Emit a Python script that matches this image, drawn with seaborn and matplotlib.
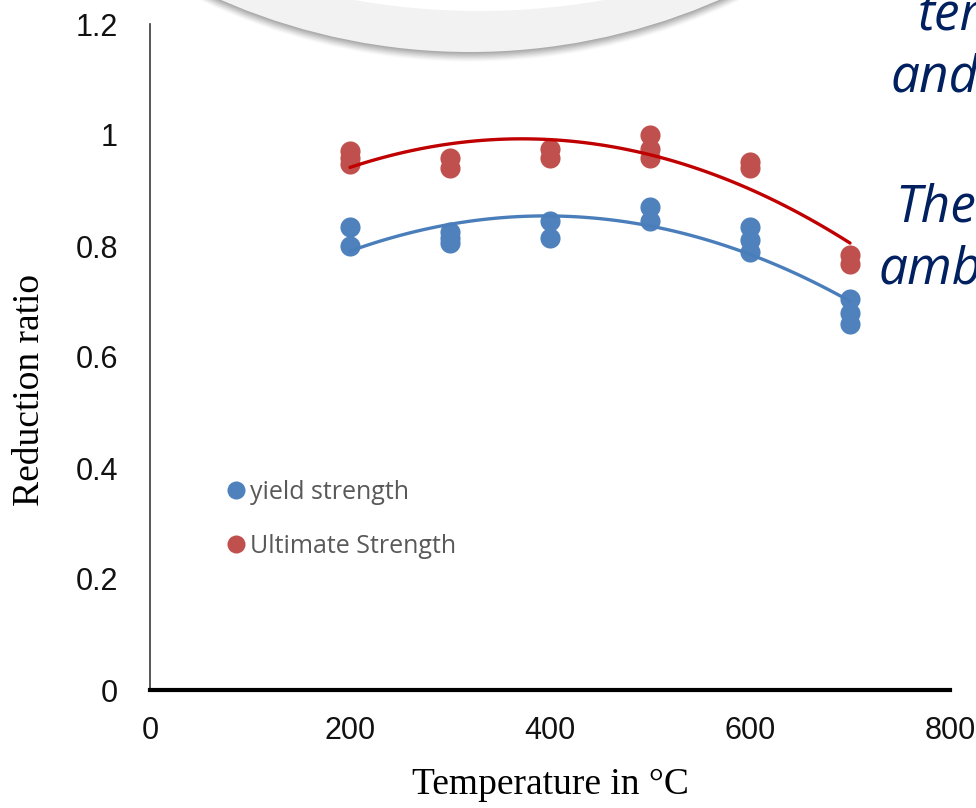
import numpy as np
import pandas as pd
import matplotlib
matplotlib.use("Agg")
import matplotlib.pyplot as plt
from matplotlib.patches import Circle
from matplotlib.lines import Line2D
import seaborn as sns

# ---- data ----
yield_temp = [200, 200, 300, 300, 300, 400, 400, 500, 500, 600, 600, 600, 700, 700, 700]
yield_ratio = [0.835, 0.80, 0.825, 0.815, 0.805, 0.845, 0.815, 0.87, 0.845, 0.835, 0.81, 0.79, 0.705, 0.68, 0.66]

ult_temp = [200, 200, 200, 300, 300, 400, 400, 500, 500, 500, 600, 600, 700, 700]
ult_ratio = [0.972, 0.958, 0.948, 0.958, 0.94, 0.975, 0.958, 1.0, 0.975, 0.958, 0.951, 0.94, 0.784, 0.768]

x_ticks = [0, 200, 400, 600, 800]
y_ticks = [0, 0.2, 0.4, 0.6, 0.8, 1.0, 1.2]
y_tick_labels = ["0", "0.2", "0.4", "0.6", "0.8", "1", "1.2"]

series_labels = ["yield strength", "Ultimate Strength"]
slide_words = ["temperature", "and", "The", "ambient"]

yield_df = pd.DataFrame({"temp": yield_temp, "ratio": yield_ratio})
ult_df = pd.DataFrame({"temp": ult_temp, "ratio": ult_ratio})

sns.set_theme(style="white")
plt.rcParams["font.family"] = ["Liberation Sans Narrow", "Liberation Sans", "DejaVu Sans"]

W, H = 976, 808
fig = plt.figure(figsize=(W / 100, H / 100), dpi=100)
fig.patch.set_facecolor("white")

ax = fig.add_axes([150 / W, 1 - 690 / H, 800 / W, 666 / H])

blue_pt, red_pt = "#4f81bd", "#c0504d"
blue_ln, red_ln = "#4a7ebb", "#c00000"

sns.regplot(data=yield_df, x="temp", y="ratio", order=2, ci=None, ax=ax,
            scatter_kws=dict(s=210, color=blue_pt, alpha=1, linewidths=0, zorder=3),
            line_kws=dict(color=blue_ln, lw=2.4, zorder=4))
sns.regplot(data=ult_df, x="temp", y="ratio", order=2, ci=None, ax=ax,
            scatter_kws=dict(s=210, color=red_pt, alpha=1, linewidths=0, zorder=3),
            line_kws=dict(color=red_ln, lw=2.4, zorder=4))

ax.set_xlim(0, 800)
ax.set_ylim(0, 1.2)
ax.set_xticks(x_ticks)
ax.set_yticks(y_ticks)
ax.set_yticklabels(y_tick_labels)
ax.tick_params(axis="both", length=0, labelsize=22, colors="#111111")
ax.tick_params(axis="x", pad=19)
ax.tick_params(axis="y", pad=23)

for side in ["top", "right"]:
    ax.spines[side].set_visible(False)
ax.spines["left"].set_color("#3a3a3a")
ax.spines["left"].set_linewidth(1.2)
ax.spines["bottom"].set_color("#000000")
ax.spines["bottom"].set_linewidth(3.0)
ax.set_facecolor("white")

serif = ["Liberation Serif", "DejaVu Serif"]
ax.set_xlabel("Temperature in °C", family=serif, fontsize=27, color="black")
ax.set_ylabel("Reduction ratio", family=serif, fontsize=27, color="black")
ax.xaxis.set_label_coords(550 / W, 1 - 768 / H, transform=fig.transFigure)
ax.yaxis.set_label_coords(47 / W, 1 - 390 / H, transform=fig.transFigure)

handles = [Line2D([], [], marker="o", ls="", markersize=13, color=blue_pt, markeredgewidth=0),
           Line2D([], [], marker="o", ls="", markersize=13, color=red_pt, markeredgewidth=0)]
leg = ax.legend(handles, series_labels, loc="upper left",
                bbox_to_anchor=(227 / W, 1 - 480 / H),
                bbox_transform=fig.transFigure, frameon=False,
                prop={"family": ["Open Sans", "DejaVu Sans"], "size": 18},
                labelcolor="#595959", handletextpad=0.2, handlelength=0.7,
                labelspacing=1.15, borderpad=0, borderaxespad=0)

# ---- slide overlay (callout bubble and cut-off slide text) ----
ov = fig.add_axes([0, 0, 1, 1], zorder=10)
ov.set_xlim(0, W)
ov.set_ylim(H, 0)
ov.axis("off")
ov.patch.set_alpha(0)

cx, cy, R = 470, -570, 622
for k, a in zip(range(8, 0, -1), np.linspace(0.04, 0.16, 8)):
    ov.add_patch(Circle((cx, cy + k * 0.9), R + k * 0.3, facecolor="#707070",
                        edgecolor="none", alpha=a))
ov.add_patch(Circle((cx, cy), R, facecolor="#f2f2f2", edgecolor="none"))
ov.add_patch(Circle((479, -705), 716, facecolor="white", edgecolor="none"))

navy = "#002060"
sfam = ["Open Sans", "DejaVu Sans"]
for word, (tx, ty) in zip(slide_words, [(918, 30), (891, 92), (895, 222), (879, 283)]):
    ov.text(tx, ty, word, fontsize=37, style="italic", color=navy,
            family=sfam, ha="left", va="baseline")

fig.savefig("out.png", dpi=100)
